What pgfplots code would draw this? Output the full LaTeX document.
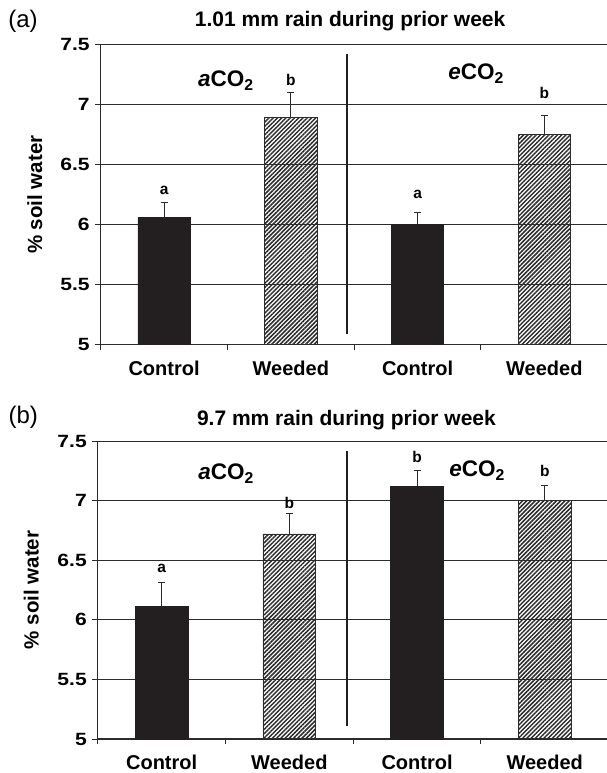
\documentclass[border=0pt]{standalone}
\usepackage{fontspec}
\setmainfont{Liberation Sans}
\newfontfamily\widebf[FakeStretch=1.19]{Liberation Sans Bold}
\usepackage{pgfplots}
\pgfplotsset{compat=1.18}
\usetikzlibrary{patterns.meta}
\definecolor{barblack}{HTML}{231F20}
\definecolor{gridc}{HTML}{2B2B2B}
\tikzset{
  lab/.style={font=\bfseries\fontsize{15.5}{17}\selectfont, anchor=center, inner sep=0pt},
  co/.style={font=\bfseries\fontsize{22.5}{25}\selectfont, anchor=base, inner sep=0pt},
  ttl/.style={font=\bfseries\fontsize{21}{23}\selectfont, anchor=base, inner sep=0pt},
  pl/.style={font=\fontsize{24}{26}\selectfont, anchor=base west, inner sep=0pt},
}
\pgfplotsset{
  panel/.style={
    scale only axis,
    clip mode=individual,
    xmin=-0.5, xmax=3.5, ymin=5, ymax=7.5,
    axis x line*=bottom, axis y line*=left,
    axis line style={line width=1.1pt, color=gridc, -},
    xtick={0,1,2,3},
    xticklabels={Control,Weeded,Control,Weeded},
    major x tick style={draw=none},
    minor xtick={-0.5,0.5,1.5,2.5},
    minor x tick style={line width=1pt, color=gridc},
    minor tick length=5pt,
    major tick length=5.5pt,
    y tick style={line width=1pt, color=gridc},
    tick align=outside,
    ytick={5,5.5,6,6.5,7,7.5},
    ymajorgrids,
    major grid style={line width=0.9pt, color=gridc},
    /pgf/number format/assume math mode=true,
    yticklabel style={font=\widebf\fontsize{17.7}{20}\selectfont, xshift=-2pt},
    xticklabel style={font=\bfseries\fontsize{20}{22}\selectfont, yshift=-7pt},
    ylabel={\% soil water},
    every axis y label/.style={at={(axis description cs:-0.13,0.5)}, rotate=90, anchor=center,
      font=\bfseries\fontsize{20.5}{22}\selectfont},
  },
  ctrl/.style={ybar, bar width=0.413, bar shift=0pt, fill=barblack, draw=barblack, line width=0.6pt,
    error bars/.cd, y dir=plus, y explicit, error mark=-,
    error bar style={line width=0.9pt, color=gridc},
    error mark options={rotate=90, mark size=3.5pt, line width=1pt, color=gridc}},
  weed/.style={ybar, bar width=0.413, bar shift=0pt,
    pattern={Lines[angle=45, distance=3pt, line width=1.5pt]}, pattern color=gridc,
    draw=gridc, line width=0.7pt,
    error bars/.cd, y dir=plus, y explicit, error mark=-,
    error bar style={line width=0.9pt, color=gridc},
    error mark options={rotate=90, mark size=3.5pt, line width=1pt, color=gridc}},
}
\begin{document}
\begin{tikzpicture}
\path[use as bounding box] (0,0) rectangle (606pt,-773pt);
% Panel (a)
\begin{axis}[panel, width=507pt, height=300pt, at={(100.7pt,-344.7pt)}, anchor=south west]
\addplot[ctrl] coordinates {(0,6.06) +- (0,0.125) (2,6.0) +- (0,0.10)};
\addplot[weed] coordinates {(1,6.895) +- (0,0.205) (3,6.753) +- (0,0.16)};
\draw[line width=2.2pt, color=barblack] (axis cs:1.445,5.09) -- (axis cs:1.445,7.42);
\node[lab] at (axis cs:0,6.283) {a};
\node[lab] at (axis cs:1,7.206) {b};
\node[lab] at (axis cs:2,6.25) {a};
\node[lab] at (axis cs:3,7.095) {b};
\node[co] at (axis cs:0.488,7.15) {{\itshape a}CO\textsubscript{2}};
\node[co] at (axis cs:2.462,7.21) {{\itshape e}CO\textsubscript{2}};
\node[ttl] at (axis cs:1.468,7.652) {1.01 mm rain during prior week};
\node[pl] at (axis cs:-1.23,7.643) {(a)};
\end{axis}
% Panel (b)
\begin{axis}[panel, width=510.8pt, height=298pt, at={(97.8pt,-739pt)}, anchor=south west]
\addplot[ctrl] coordinates {(0,6.11) +- (0,0.20) (2,7.12) +- (0,0.13)};
\addplot[weed] coordinates {(1,6.72) +- (0,0.17) (3,7.0) +- (0,0.13)};
\draw[line width=2.2pt, color=barblack] (axis cs:1.449,5.11) -- (axis cs:1.449,7.42);
\node[lab] at (axis cs:0,6.43) {a};
\node[lab] at (axis cs:1,6.98) {b};
\node[lab] at (axis cs:2,7.37) {b};
\node[lab] at (axis cs:3,7.25) {b};
\node[co] at (axis cs:0.504,7.18) {{\itshape a}CO\textsubscript{2}};
\node[co] at (axis cs:2.47,7.2) {{\itshape e}CO\textsubscript{2}};
\node[ttl] at (axis cs:1.447,7.634) {9.7 mm rain during prior week};
\node[pl] at (axis cs:-1.20,7.651) {(b)};
\end{axis}
\end{tikzpicture}
\end{document}
